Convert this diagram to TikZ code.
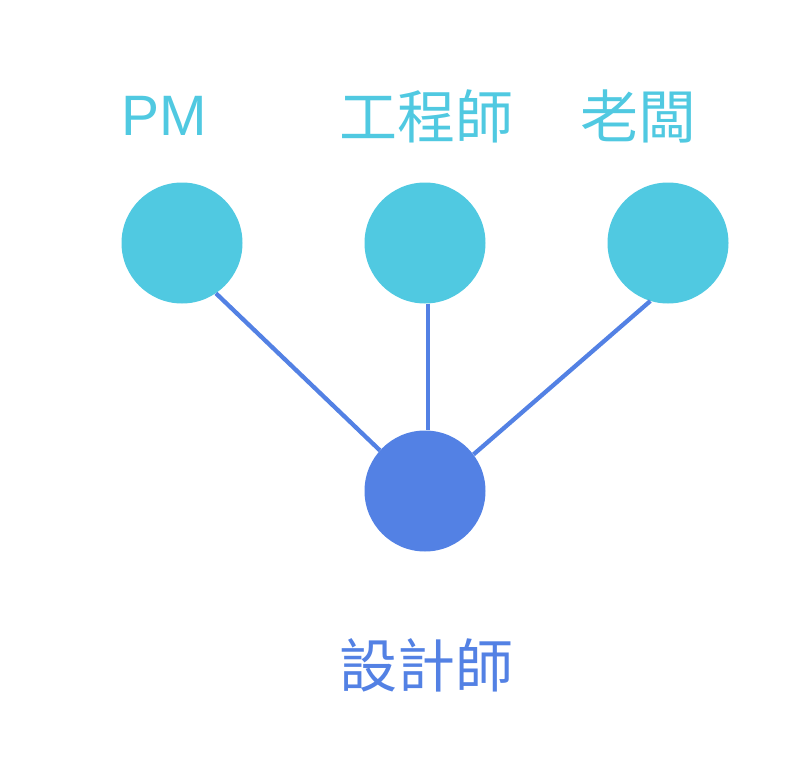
\documentclass[tikz,border=0pt]{standalone}
\usepackage{fontspec}
\setmainfont{Liberation Sans}
\newfontfamily\cjk{Noto Sans CJK TC}
\definecolor{cyanc}{HTML}{50C9E1}
\definecolor{bluec}{HTML}{5381E4}
\begin{document}
\begin{tikzpicture}[x=1pt,y=-1pt,
  role/.style={circle,fill=cyanc,minimum size=121pt,inner sep=0pt},
  main/.style={circle,fill=bluec,minimum size=121pt,inner sep=0pt},
  toplabel/.style={text=cyanc,inner sep=0pt,font=\fontsize{58}{60}\selectfont\cjk},
  botlabel/.style={text=bluec,inner sep=0pt,font=\fontsize{58}{60}\selectfont\cjk},
  link/.style={draw=bluec,line width=4.3pt}]
\useasboundingbox (0,0) rectangle (806,768);
\node[role] (pm) at (182,243) {};
\node[role] (eng) at (425,243) {};
\node[role] (boss) at (668,243) {};
\node[main] (des) at (425,491) {};
\draw[link] (pm.-56.6) -- (des.138);
\draw[link] (eng.-87.2) -- (des.87);
\draw[link] (boss.-107.8) -- (des.37);
\node[toplabel,font=\fontsize{57}{60}\selectfont] (lpm) at (164,116) {PM};
\node[toplabel] (leng) at (426,116) {工程師};
\node[toplabel] (lboss) at (638,116) {老闆};
\node[botlabel] (ldes) at (426,665) {設計師};
\end{tikzpicture}
\end{document}
